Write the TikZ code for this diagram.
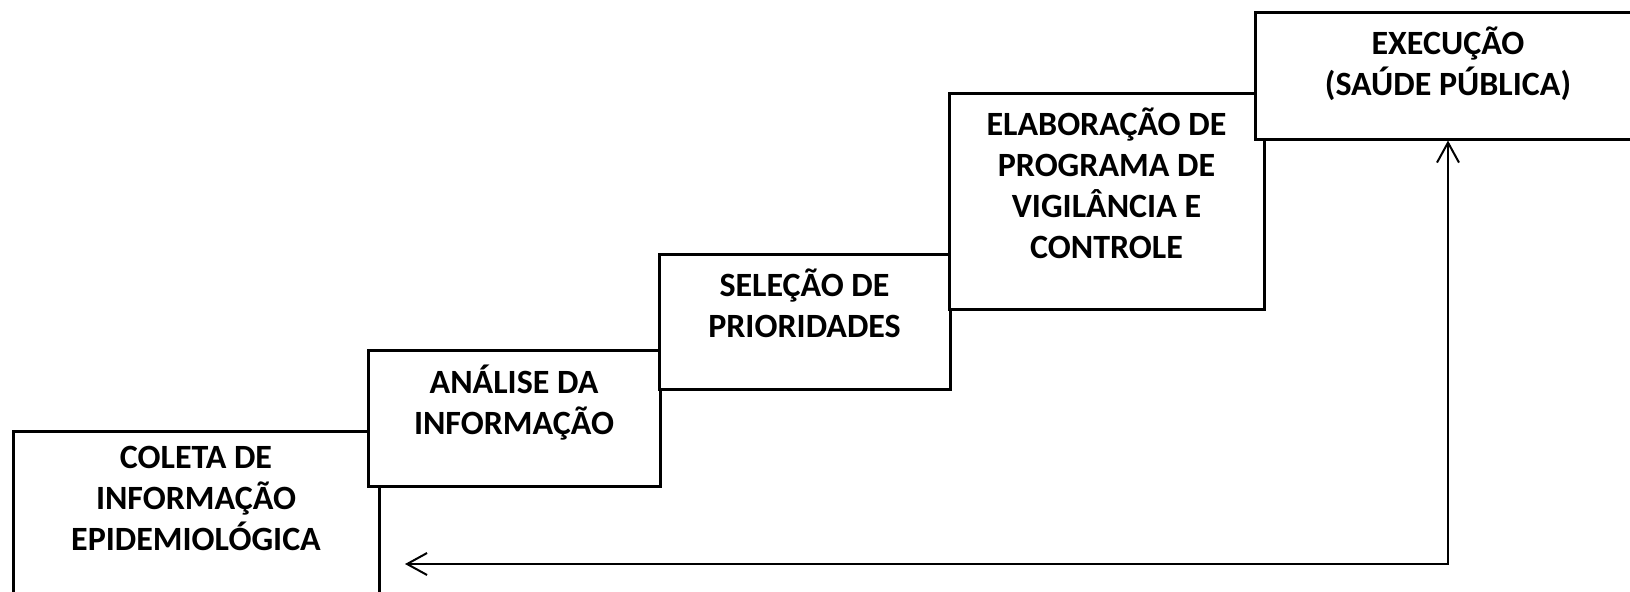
\documentclass[tikz,border=0pt]{standalone}
\usepackage{fontspec}
\setmainfont{Carlito}
\usetikzlibrary{arrows.meta}

\begin{document}
\begin{tikzpicture}[x=0.5pt, y=-0.5pt,
    etapa/.style={draw, fill=white, line width=1.5pt, inner sep=0pt},
    rotulo/.style={align=center, font=\bfseries\fontsize{17}{20.5}\selectfont, inner sep=0pt,
        execute at begin node={\rule{0pt}{17pt}}},
    seta/.style={{Straight Barb[length=10pt,width=11pt]}-{Straight Barb[length=10pt,width=11pt]}, line width=1pt}]
    \useasboundingbox (0,0) rectangle (1630,591);
    \clip (0,0) rectangle (1630,591);
    \foreach \nome/\cx/\cy/\lx/\ly/\texto in {
        coleta/196/519.5/366/177/{COLETA DE\\INFORMAÇÃO\\EPIDEMIOLÓGICA},
        analise/514/418/292/136/{ANÁLISE DA\\INFORMAÇÃO},
        selecao/804.5/321.5/291/135/{SELEÇÃO DE\\PRIORIDADES},
        programa/1106.5/201/315/216/{ELABORAÇÃO DE\\PROGRAMA DE\\VIGILÂNCIA E\\CONTROLE},
        execucao/1448/75.5/386/127/{EXECUÇÃO\\(SAÚDE PÚBLICA)}}{
        \node[etapa, minimum width=\lx*0.5pt, minimum height=\ly*0.5pt] (\nome) at (\cx,\cy) {};
        \node[rotulo, anchor=north] (\nome-txt) at ([yshift=-8pt]\nome.north) {\texto};
    }
    \coordinate (volta) at (405,564);
    \draw[seta] (volta) -| (execucao.south);
\end{tikzpicture}
\end{document}
